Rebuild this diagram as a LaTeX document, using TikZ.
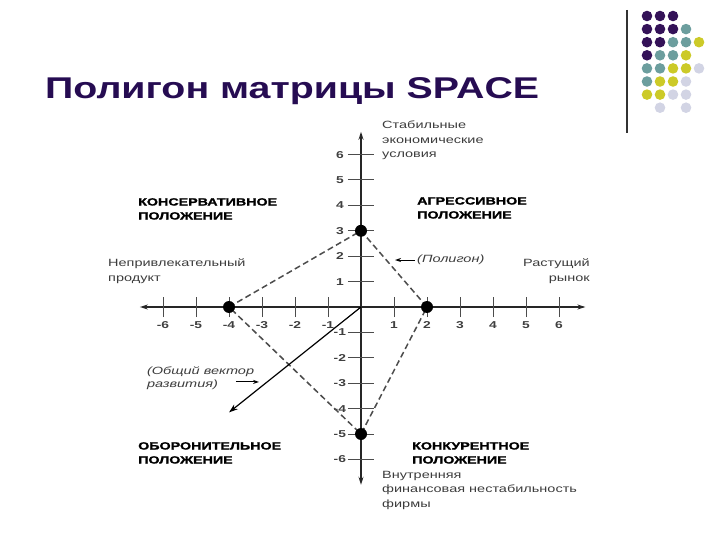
\documentclass[tikz,border=0pt]{standalone}
\usepackage{fontspec}
\setmainfont{Liberation Sans}
\newfontfamily\titlefont[FakeStretch=1.31]{Liberation Sans}
\newfontfamily\chartfont[FakeStretch=1.38]{Liberation Sans}
\newfontfamily\heavyfont[FakeStretch=1.36, FakeBold=1.5]{Liberation Sans}
\usetikzlibrary{positioning,arrows.meta}

\definecolor{titleviolet}{RGB}{38,12,82}
\definecolor{pixviolet}{RGB}{52,18,88}
\definecolor{pixteal}{RGB}{108,158,158}
\definecolor{pixolive}{RGB}{204,202,40}
\definecolor{pixlilac}{RGB}{210,212,228}
\definecolor{labelgray}{RGB}{60,60,60}

\begin{document}
\begin{tikzpicture}[x=1pt, y=-1pt,
    axis/.style={line width=1.3pt, black!85, {Stealth[length=8pt,width=5pt]}-{Stealth[length=8pt,width=5pt]}},
    tick/.style={line width=1pt, black!70},
    ticknum/.style={font=\chartfont\bfseries\fontsize{10}{12}\selectfont, text=black!75, inner sep=0},
    corner/.style={circle, fill=black, inner sep=0, minimum size=12pt},
    poly/.style={line width=1.5pt, black!70, dash pattern=on 6pt off 3.5pt},
    vector/.style={line width=1.2pt, -{Stealth[length=9pt,width=6pt]}},
    pointer/.style={line width=1pt, -{Stealth[length=6pt,width=4pt]}},
    note/.style={font=\chartfont\itshape\fontsize{10.5}{13}\selectfont, text=labelgray, inner sep=2pt},
    axislabel/.style={font=\chartfont\fontsize{10.5}{14.5}\selectfont, text=labelgray, inner sep=0},
    quadrant/.style={font=\heavyfont\bfseries\fontsize{10.5}{14}\selectfont, align=left, inner sep=0, anchor=north west}]
    \useasboundingbox (0,0) rectangle (720,540);

    % title
    \node [anchor=base west, inner sep=0, text=titleviolet, font=\titlefont\bfseries\fontsize{30}{36}\selectfont] (title) at (45,99) {Полигон матрицы SPACE};

    % rule and dots, top right
    \draw [line width=1.2pt, black!80] (627,10) -- (627,133);
    \foreach \col/\row/\dotcol in {0/0/pixviolet,1/0/pixviolet,2/0/pixviolet,
        0/1/pixviolet,1/1/pixviolet,2/1/pixviolet,3/1/pixteal,
        0/2/pixviolet,1/2/pixviolet,2/2/pixteal,3/2/pixteal,4/2/pixolive,
        0/3/pixviolet,1/3/pixteal,2/3/pixteal,3/3/pixolive,
        0/4/pixteal,1/4/pixteal,2/4/pixolive,3/4/pixolive,4/4/pixlilac,
        0/5/pixteal,1/5/pixolive,2/5/pixolive,3/5/pixlilac,
        0/6/pixolive,1/6/pixolive,2/6/pixlilac,3/6/pixlilac,
        1/7/pixlilac,3/7/pixlilac}
        \fill [\dotcol] (647+13*\col, 16+13.1*\row) circle (5.3);

    % chart
    \begin{scope}[shift={(361,307)}, x=33pt, y=25.4pt]
        \coordinate (xmin) at (-6.7,0);
        \coordinate (xmax) at (6.8,0);
        \coordinate (ymin) at (0,-7.0);
        \coordinate (ymax) at (0,6.9);
        \draw [axis] (xmin) -- (xmax);
        \draw [axis] (ymin) -- (ymax);

        \foreach \i in {-6,-5,-4,-3,-2,-1,1,2,3,4,5,6} {
            \draw [tick] (\i,-0.4) -- (\i,0.4);
            \node [ticknum] (nx\i) at (\i,-0.72) {\i};
            \draw [tick] (-0.4,\i) -- (0.4,\i);
            \node [ticknum] (ny\i) at (-0.64,\i) {\i};
        }

        % polygon
        \coordinate (pw) at (-4,0);
        \coordinate (pn) at (0,3);
        \coordinate (pe) at (2,0);
        \coordinate (ps) at (0,-5);
        \draw [poly] (pw) -- (pn) -- (pe) -- (ps) -- cycle;
        \node [corner] (cw) at (pw) {};
        \node [corner] (cn) at (pn) {};
        \node [corner] (ce) at (pe) {};
        \node [corner] (cs) at (ps) {};

        % vector
        \coordinate (o) at (0,0);
        \coordinate (vend) at (-4,-4.15);
        \draw [vector] (o) -- (vend);

        \coordinate (polytip) at (1.03,1.85);
        \node [note, right=20pt of polytip] (polylabel) {(Полигон)};
        \draw [pointer] (polylabel.west) -- (polytip);

        \node [note, align=left, anchor=north west] (veclabel) at (-6.55,-2.28) {(Общий вектор\\развития)};
        \coordinate (vectail) at (-3.79,-2.95);
        \coordinate (vectip) at (-3.09,-2.95);
        \draw [pointer] (vectail) -- (vectip);
    \end{scope}

    % axis captions
    \node [axislabel, align=left, anchor=north west] (stable) at (382,121) {Стабильные\\экономические\\условия};
    \node [axislabel, align=left, anchor=north west] (unattr) at (108,259) {Непривлекательный\\продукт};
    \node [axislabel, align=right, anchor=north east] (growth) at (590,259) {Растущий\\рынок};
    \node [axislabel, align=left, anchor=north west] (instab) at (382,471) {Внутренняя\\финансовая нестабильность\\фирмы};

    % quadrants
    \node [quadrant] (conserv) at (138,198) {КОНСЕРВАТИВНОЕ\\ПОЛОЖЕНИЕ};
    \node [quadrant] (aggress) at (417,197) {АГРЕССИВНОЕ\\ПОЛОЖЕНИЕ};
    \node [quadrant] (defens) at (138,442) {ОБОРОНИТЕЛЬНОЕ\\ПОЛОЖЕНИЕ};
    \node [quadrant] (compet) at (412,442) {КОНКУРЕНТНОЕ\\ПОЛОЖЕНИЕ};
\end{tikzpicture}
\end{document}
